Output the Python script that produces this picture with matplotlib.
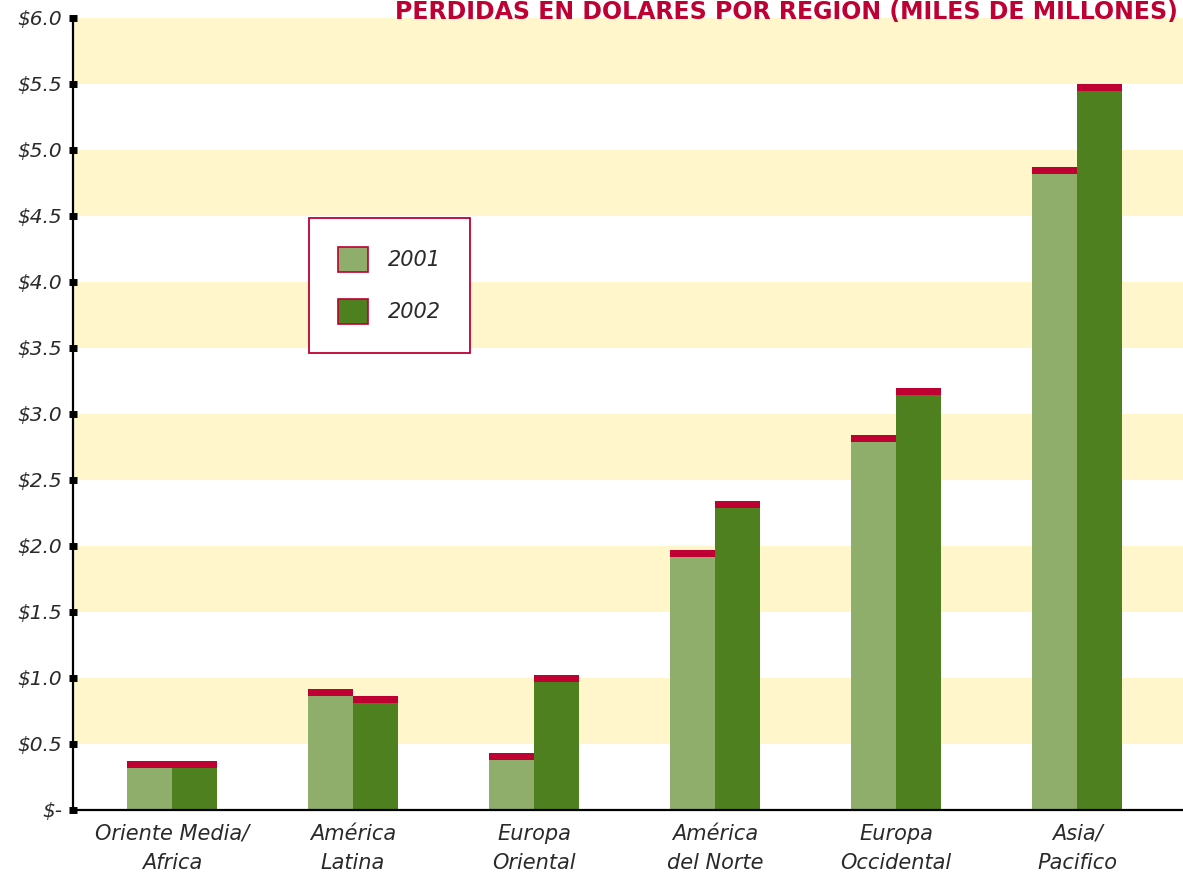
import matplotlib
matplotlib.use("Agg")
import matplotlib.pyplot as plt
import numpy as np
from matplotlib.patches import Patch

regions = ["Oriente Media/\nAfrica", "América\nLatina", "Europa\nOriental",
           "América\ndel Norte", "Europa\nOccidental", "Asia/\nPacifico"]
v2001 = [0.37, 0.92, 0.43, 1.97, 2.84, 4.87]
v2002 = [0.37, 0.86, 1.02, 2.34, 3.20, 5.50]
yticks = [0, 0.5, 1.0, 1.5, 2.0, 2.5, 3.0, 3.5, 4.0, 4.5, 5.0, 5.5, 6.0]
ylabels = ["$-", "$0.5", "$1.0", "$1.5", "$2.0", "$2.5", "$3.0", "$3.5",
           "$4.0", "$4.5", "$5.0", "$5.5", "$6.0"]
title = "PERDIDAS EN DOLARES POR REGION (MILES DE MILLONES)"

LIGHT = "#8FAE6B"
DARK = "#4E8020"
RED = "#BE0032"
BAND = "#FFF6CC"
TXT = "#2a2a2a"

fig = plt.figure(figsize=(11.83, 8.82), dpi=100)
ax = fig.add_axes([73/1183, 1-810/882, 1-73/1183, (810-18)/882])

for lo in [0.5, 1.5, 2.5, 3.5, 4.5, 5.5]:
    ax.axhspan(lo, lo+0.5, color=BAND, zorder=0, lw=0)

x = np.arange(len(regions))
w = 0.249
cap = 0.053
a1 = np.array(v2001); a2 = np.array(v2002)
ax.bar(x - w/2, a1 - cap, w, color=LIGHT, zorder=2, linewidth=0)
ax.bar(x + w/2, a2 - cap, w, color=DARK, zorder=2, linewidth=0)
ax.bar(x - w/2, cap, w, bottom=a1 - cap, color=RED, zorder=2, linewidth=0)
ax.bar(x + w/2, cap, w, bottom=a2 - cap, color=RED, zorder=2, linewidth=0)

ax.set_xlim(-0.547, 5.586)
ax.set_ylim(0, 6.0)
ax.set_yticks(yticks)
ax.set_yticklabels(ylabels, fontstyle="italic", fontsize=14.5, color=TXT)
ax.set_xticks(x)
ax.set_xticklabels(regions, fontstyle="italic", fontsize=15, color=TXT,
                   linespacing=1.6)
ax.tick_params(axis="x", length=0, pad=10)
ax.tick_params(axis="y", direction="inout", length=5.5, width=5,
               color="black", pad=5)
for s in ["top", "right"]:
    ax.spines[s].set_visible(False)
ax.spines["left"].set_linewidth(1.6)
ax.spines["bottom"].set_linewidth(1.6)
ax.spines["left"].set_zorder(3)

handles = [Patch(facecolor=LIGHT, edgecolor=RED, linewidth=1.2, label="2001"),
           Patch(facecolor=DARK, edgecolor=RED, linewidth=1.2, label="2002")]
leg = ax.legend(handles=handles, loc="upper left",
                bbox_to_anchor=((309-73)/1110, (810-218)/792),
                frameon=True, fancybox=False, edgecolor=RED, framealpha=1,
                facecolor="white",
                prop={"style": "italic", "size": 15},
                handlelength=1.45, handleheight=1.45, labelspacing=1.3,
                borderpad=1.4, handletextpad=0.95, borderaxespad=0)
leg.get_frame().set_linewidth(1.3)
for t in leg.get_texts():
    t.set_color(TXT)

fig.text(1178/1183, 1-19/882, title, ha="right", va="baseline",
         fontsize=17, fontweight="bold", color=RED)

fig.savefig("out.png", dpi=100)
